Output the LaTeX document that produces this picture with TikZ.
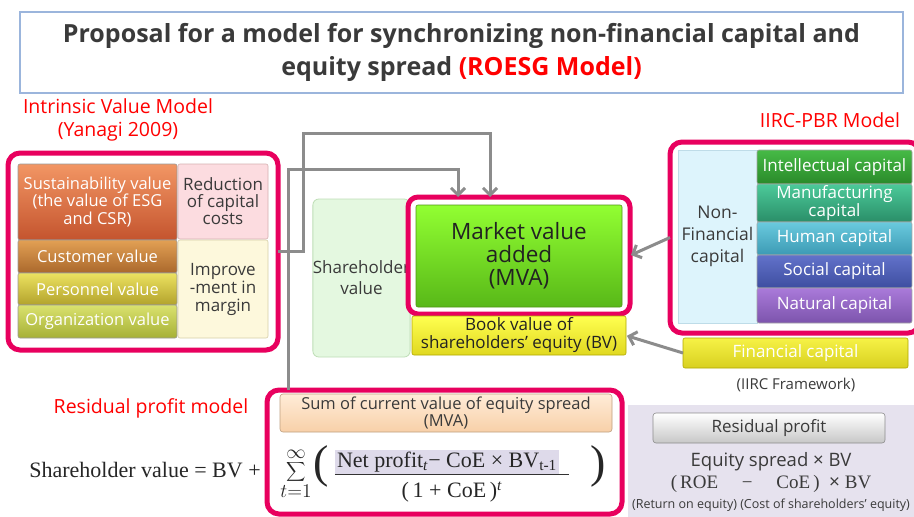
\documentclass[tikz,border=0pt]{standalone}
\usepackage{fontspec}
\setmainfont{Open Sans}
\newfontfamily\serif{Liberation Serif}
\usetikzlibrary{arrows.meta}
\definecolor{pk}{HTML}{E8005E}
\definecolor{rd}{HTML}{FF0000}
\definecolor{tgray}{HTML}{3A3A3A}
\definecolor{titleb}{HTML}{9BB5DC}
\definecolor{arrg}{HTML}{8C8C8C}
\definecolor{lav}{HTML}{E6E2EE}
\definecolor{hl}{HTML}{DEDAEA}
\definecolor{sustT}{RGB}{242,150,100}\definecolor{sustB}{RGB}{196,84,46}
\definecolor{custT}{RGB}{226,160,84}\definecolor{custB}{RGB}{170,104,44}
\definecolor{persT}{RGB}{236,226,96}\definecolor{persB}{RGB}{178,162,44}
\definecolor{orgT}{RGB}{218,226,110}\definecolor{orgB}{RGB}{166,176,54}
\definecolor{redD}{RGB}{214,176,176}\definecolor{redF}{RGB}{252,220,224}
\definecolor{impD}{RGB}{214,206,168}\definecolor{impF}{RGB}{253,248,220}
\definecolor{shvD}{RGB}{190,222,182}\definecolor{shvF}{RGB}{228,248,224}
\definecolor{mvaD}{RGB}{80,150,20}\definecolor{mvaT}{RGB}{146,255,50}\definecolor{mvaB}{RGB}{88,184,24}
\definecolor{txd}{RGB}{34,34,34}
\definecolor{ylD}{RGB}{176,168,0}\definecolor{ylT}{RGB}{255,255,80}\definecolor{ylB}{RGB}{224,216,32}
\definecolor{nfF}{RGB}{221,244,252}\definecolor{nfD}{RGB}{190,220,232}
\definecolor{intT}{RGB}{70,186,70}\definecolor{intB}{RGB}{42,138,42}
\definecolor{manT}{RGB}{76,202,154}\definecolor{manB}{RGB}{42,142,104}
\definecolor{humT}{RGB}{106,202,222}\definecolor{humB}{RGB}{60,154,180}
\definecolor{socT}{RGB}{98,114,202}\definecolor{socB}{RGB}{62,78,160}
\definecolor{natT}{RGB}{170,122,218}\definecolor{natB}{RGB}{124,84,172}
\definecolor{finT}{RGB}{246,242,70}\definecolor{finB}{RGB}{216,208,32}
\definecolor{hdD}{RGB}{190,160,128}\definecolor{hdT}{RGB}{255,236,216}\definecolor{hdB}{RGB}{248,208,168}
\newcommand\fsz[2]{\fontsize{#1}{#2}\selectfont}
\begin{document}
\begin{tikzpicture}[x=1pt,y=-1pt,
  box/.style={inner sep=0pt, outer sep=0pt, align=center},
  cell/.style={box, draw=#1, rounded corners=2pt, line width=0.6pt},
  wcell/.style={cell=#1, text=white, font=\fsz{16.5}{17.5}},
  rcell/.style={cell=#1, text=white, font=\fsz{17}{17}},
  pinkbox/.style={box, draw=pk, line width=5pt, rounded corners=12pt, fill=white},
  arr/.style={draw=arrg, line width=3pt, -{Straight Barb[length=7pt,width=14pt]}},
  redlbl/.style={text=rd, align=center, font=\fsz{19.5}{23}},
  dark/.style={text=tgray}
]
\useasboundingbox (0,0) rectangle (914,517);
\fill[white] (0,0) rectangle (914,517);

% title
\node[box, draw=titleb, line width=1.2pt, minimum width=883pt, minimum height=81pt,
      text=tgray, font=\fsz{25}{33}\bfseries] (title) at (461.5,52.5)
  {Proposal for a model for synchronizing non-financial capital and\\equity spread \textcolor{rd}{(ROESG Model)}};

% left block
\node[redlbl] (ivm) at (118,120) {Intrinsic Value Model\\(Yanagi 2009)};
\node[pinkbox, minimum width=270pt, minimum height=197pt] (lpink) at (143,251.5) {};
\node[wcell=black!40, top color=sustT, bottom color=sustB,
      minimum width=159pt, minimum height=76pt] (sust) at (97.5,202)
  {Sustainability value\\(the value of ESG\\and CSR)};
\node[wcell=black!40, top color=custT, bottom color=custB,
      minimum width=159pt, minimum height=33pt] (cust) at (97.5,256.5) {Customer value};
\node[wcell=black!40, top color=persT, bottom color=persB,
      minimum width=159pt, minimum height=32pt] (pers) at (97.5,289) {Personnel value};
\node[wcell=black!40, top color=orgT, bottom color=orgB,
      minimum width=159pt, minimum height=33pt] (org) at (97.5,321.5) {Organization value};
\node[cell=redD, fill=redF, dark, font=\fsz{17}{17},
      minimum width=90pt, minimum height=75pt] (redc) at (223,201.5) {Reduction\\of capital\\costs};
\node[cell=impD, fill=impF, dark, font=\fsz{17}{18},
      minimum width=90pt, minimum height=98pt] (impr) at (223,289) {Improve\\-ment in\\margin};

% centre block
\node[box, draw=shvD, fill=shvF, rounded corners=6pt,
      line width=0.8pt, dark, font=\fsz{17}{21}, minimum width=97pt, minimum height=158pt] (shv) at (361.5,278) {Shareholder\\value};
\node[pinkbox, rounded corners=10pt, minimum width=222pt, minimum height=117pt] (mvao) at (519,255.5) {};
\node[box, draw=mvaD, line width=0.6pt, rounded corners=2pt,
      top color=mvaT, bottom color=mvaB,
      text=txd, font=\fsz{22.5}{23}, minimum width=206pt, minimum height=102pt] (mva) at (519,256)
  {Market value\\added\\(MVA)};
\node[box, draw=ylD, line width=0.6pt, rounded corners=2pt,
      top color=ylT, bottom color=ylB,
      text=txd, font=\fsz{17}{18}, minimum width=214pt, minimum height=39pt] (book) at (519,335.5)
  {Book value of\\shareholders’ equity (BV)};

% right block
\node[redlbl] (iirc) at (830,120) {IIRC-PBR Model};
\node[pinkbox, minimum width=250pt, minimum height=191pt] (rpink) at (795,237.5) {};
\node[box, fill=nfF, draw=nfD, line width=0.6pt,
      dark, font=\fsz{17.5}{22}, minimum width=79pt, minimum height=173pt] (nonfin) at (717.5,236.5) {Non-\\Financial\\capital};
\node[rcell=black!35, top color=intT, bottom color=intB,
      minimum width=155pt, minimum height=34pt] (intel) at (834.5,167) {Intellectual capital};
\node[rcell=black!35, top color=manT, bottom color=manB,
      font=\fsz{17}{15.5}, minimum width=155pt, minimum height=38pt] (manu) at (834.5,203) {Manufacturing\\capital};
\node[rcell=black!35, top color=humT, bottom color=humB,
      minimum width=155pt, minimum height=33pt] (human) at (834.5,238.5) {Human capital};
\node[rcell=black!35, top color=socT, bottom color=socB,
      minimum width=155pt, minimum height=33pt] (social) at (834.5,271.5) {Social capital};
\node[rcell=black!35, top color=natT, bottom color=natB,
      minimum width=155pt, minimum height=35pt] (natural) at (834.5,305.5) {Natural capital};
\node[rcell=ylD, top color=finT, bottom color=finB,
      minimum width=225pt, minimum height=30pt] (fin) at (795.5,353) {Financial capital};
\node[dark, font=\fsz{15}{17}] (iircf) at (796,385) {(IIRC Framework)};

% bottom right panel
\node[box, fill=lav, minimum width=286pt, minimum height=112pt] (lavp) at (771,461) {};
\node[box, draw=black!45, line width=0.6pt, rounded corners=3pt, top color=white, bottom color=black!22,
      dark, font=\fsz{17}{18}, minimum width=232pt, minimum height=30pt] (rpb) at (769,428) {Residual profit};
\node[dark, font=\fsz{18.5}{20}] (eq1) at (771,462) {Equity spread × BV};
\node[dark, font=\serif\fsz{19}{20}] (eq2) at (771,484) {(\,ROE\quad\ −\quad\ CoE\,)\ \ {\fontspec{Open Sans}×}\ BV};
\node[dark, font=\fsz{12.5}{13}] (eq3) at (771,505) {(Return on equity) (Cost of shareholders’ equity)};

% residual profit model
\node[redlbl] (rpm) at (151,408) {Residual profit model};
\node[pinkbox, minimum width=355pt, minimum height=124pt] (resbox) at (444.5,452) {};
\node[box, draw=hdD, line width=0.6pt, rounded corners=3pt,
      top color=hdT, bottom color=hdB,
      dark, font=\fsz{16.5}{17}, minimum width=332pt, minimum height=38pt] (hdr) at (446,413) {Sum of current value of equity spread\\(MVA)};
\node[font=\serif\fsz{22}{22}, text=black!85] (sv) at (145,470) {Shareholder value = BV +};
\node[text=black!85, font=\fsz{20}{20}, inner sep=0pt] (sum) at (296,474) {\scalebox{1.35}{$\displaystyle\sum_{t=1}^{\infty}$}};
\node[font=\serif\fsz{46}{46}, text=black!85] (lp) at (321,466) {(};
\node[font=\serif\fsz{46}{46}, text=black!85] (rp) at (598,466) {)};
\node[fill=hl, inner sep=2pt, font=\serif\fsz{22}{22}, text=black!85] (num) at (447,462)
  {Net profit\textsubscript{\textit{t}}− CoE × BV\textsubscript{t-1}};
\node[font=\serif\fsz{22}{22}, text=black!85] (den) at (452,492) {(\,1 + CoE\,)\textsuperscript{\textit{t}}};
\draw[line width=1pt, black!80] (num.south west) -- ([xshift=10pt]num.south east);

% connectors
\coordinate (k1) at (303,133);
\coordinate (t1) at (490,197);
\coordinate (k2) at (288,169);
\coordinate (t2) at (458,197);
\draw[arr] (lpink.east) -| (k1) -| (t1);
\draw[arr] (k2 |- resbox.north) -- (k2) -| (t2);
\draw[arr, shorten >=1pt] (rpink.west) -- (mvao.east);
\draw[arr, shorten >=1pt] (fin.west) -- (book.east);
\end{tikzpicture}
\end{document}
